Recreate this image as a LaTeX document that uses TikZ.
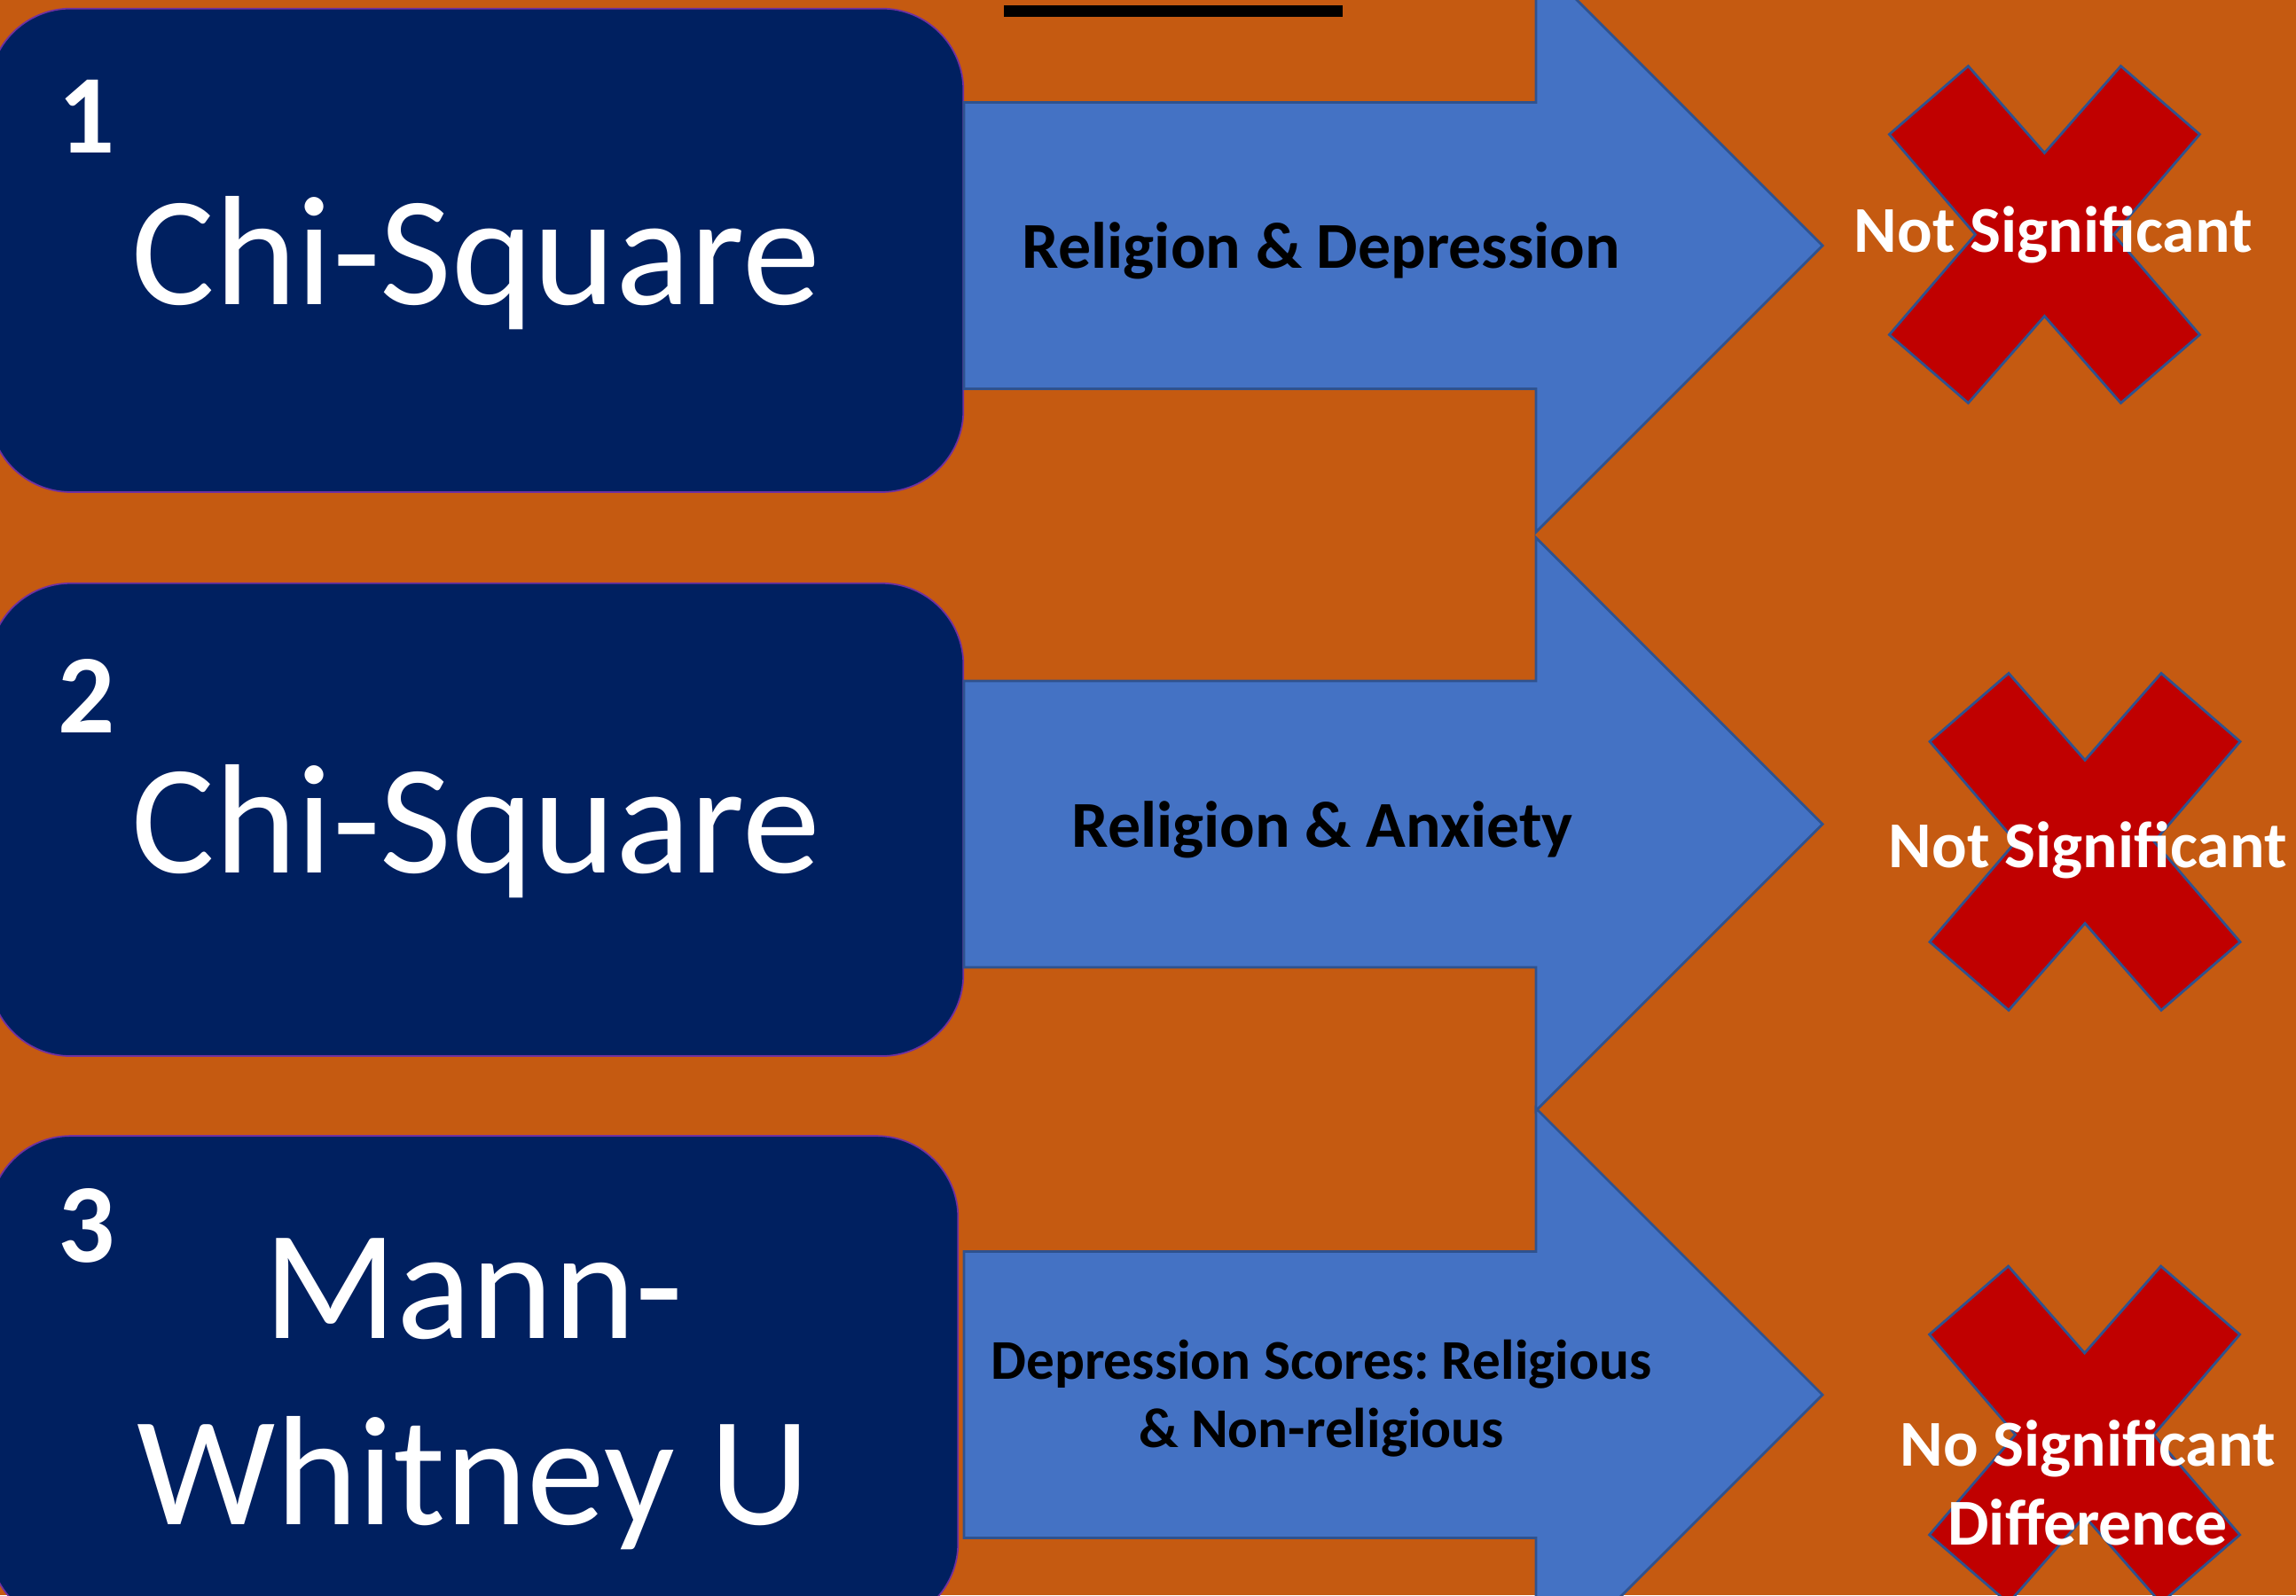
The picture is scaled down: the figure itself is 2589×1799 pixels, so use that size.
\documentclass[tikz,border=0pt]{standalone}
\usepackage{fontspec}
\setmainfont{Carlito}
\frenchspacing
\usetikzlibrary{positioning}

\definecolor{slide}{HTML}{C55A11}
\definecolor{navy}{HTML}{002060}
\definecolor{arrowblue}{HTML}{4472C4}
\definecolor{edgeblue}{HTML}{2F528F}
\definecolor{crossred}{HTML}{C00000}
\definecolor{boxedge}{HTML}{7030A0}

\begin{document}
\begin{tikzpicture}
        [
            x=0.01cm,
            y=-0.01cm,
            testbox/.style = {
                rectangle,
                draw=boxedge,
                line width=0.5pt,
                fill=navy,
                rounded corners=0.92cm,
                minimum width=10.98cm,
                inner sep=0pt
            },
            testname/.style = {
                text=white,
                font=\fontsize{50}{59.7}\selectfont,
                align=center,
                inner sep=0pt
            },
            stepnum/.style = {
                text=white,
                font=\fontsize{36}{40}\selectfont\bfseries,
                inner sep=0pt
            },
            blockarrow/.style = {
                draw=edgeblue,
                line width=0.8pt,
                fill=arrowblue
            },
            arrowlabel/.style = {
                font=\fontsize{21}{25}\selectfont\bfseries,
                align=center,
                inner sep=0pt
            },
            crossmark/.style = {
                draw=edgeblue,
                line width=0.8pt,
                fill=crossred
            },
            verdict/.style = {
                text=white,
                font=\fontsize{21}{25.3}\selectfont\bfseries,
                align=center,
                inner sep=0pt
            },
            nogo/.pic = {
                \path[crossmark] (-175,-113) -- (-86,-190) -- (0,-92) -- (86,-190)
                    -- (175,-113) -- (78,0) -- (175,113) -- (86,190) -- (0,92)
                    -- (-86,190) -- (-175,113) -- (-78,0) -- cycle;
            }
        ]

        % slide background
        \path[use as bounding box, fill=slide] (0,0) rectangle (2589,1799);
        \clip (0,0) rectangle (2589,1799);
        \fill[black] (1132,6) rectangle (1514,19);

        % the three tests
        \node[testbox, minimum height=5.45cm] (chi1) at (537,282.3) {};
        \node[testbox, minimum height=5.33cm] (chi2) at (537,924.4) {};
        \node[testbox, minimum height=5.51cm, minimum width=10.92cm] (mwu) at (534,1556.7) {};

        \node[stepnum, anchor=base west] (num1) at (65,172) {1};
        \node[stepnum, anchor=base west] (num2) at (65,826) {2};
        \node[stepnum, anchor=base west] (num3) at (65,1423) {3};

        % base of a two-line node sits on its last line
        \node[testname, anchor=base] (chi1name) at (537,343) {Chi-Square};
        \node[testname, anchor=base] (chi2name) at (537,984.7) {Chi-Square};
        \node[testname, anchor=base] (mwuname) at (534,1719) {Mann-\\Whitney U};

        % block arrows
        \path[blockarrow] (1087,115.5) -- (1732,115.5) -- (1732,-46) -- (2055,277)
            -- (1732,600) -- (1732,438.5) -- (1087,438.5) -- cycle;
        \path[blockarrow] (1087,768) -- (1732,768) -- (1732,606.5) -- (2055,929.5)
            -- (1732,1252.5) -- (1732,1091) -- (1087,1091) -- cycle;
        \path[blockarrow] (1087,1411.5) -- (1732,1411.5) -- (1732,1250) -- (2055,1573)
            -- (1732,1896) -- (1732,1734.5) -- (1087,1734.5) -- cycle;

        \node[arrowlabel, anchor=base] (rel1) at (1490,302.5) {Religion \& Depression};
        \node[arrowlabel, anchor=base] (rel2) at (1491,955) {Religion \& Anxiety};
        \node[arrowlabel, anchor=base, font=\fontsize{18}{21.8}\selectfont\bfseries]
            (rel3) at (1490,1632) {Depression Scores: Religious\\\& Non-religious};

        % outcomes
        \pic at (2305.4,264.5) {nogo};
        \pic at (2351,949.3) {nogo};
        \pic at (2350.6,1618) {nogo};

        \node[verdict, anchor=base] (res1) at (2315,284.3) {Not Significant};
        \node[verdict, anchor=base] (res2) at (2354,978) {Not Significant};
        \node[verdict, anchor=base] (res3) at (2354,1742) {No Significant\\Difference};
\end{tikzpicture}
\end{document}
